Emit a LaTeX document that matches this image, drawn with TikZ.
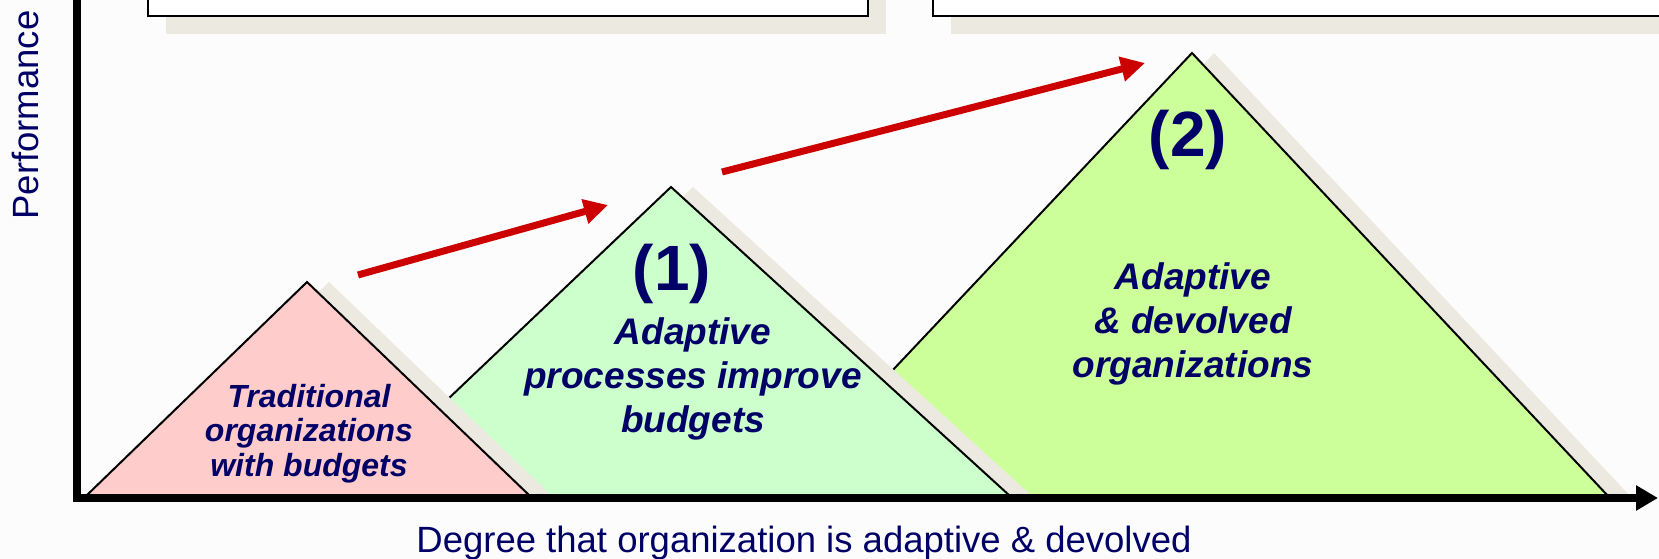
\documentclass[tikz,border=0pt]{standalone}
\usepackage{fontspec}
\setmainfont{Liberation Sans}
\usetikzlibrary{arrows.meta}
\usetikzlibrary{positioning}
\definecolor{navy}{rgb}{0,0,0.4}
\definecolor{paper}{HTML}{FCFCFC}
\definecolor{dropshadow}{HTML}{ECE9E0}
\definecolor{rosy}{HTML}{FFCCCC}
\definecolor{mint}{HTML}{CCFFCC}
\definecolor{lime}{HTML}{CCFF99}
\definecolor{arrowred}{HTML}{CC0000}

\begin{document}
\begin{tikzpicture}[
            x = 1pt, y = -1pt, % pixel grid, y pointing down
            axis/.style = {line width = 8pt, black},
            frame/.style = {draw = black, line width = 2.5pt, fill = white},
            pyramid/.style = {draw = black, line width = 2pt, line join = miter},
            trend/.style = {arrowred, line width = 7pt,
                -{Triangle[length = 24pt, width = 24pt]}},
            small/.style = {navy, align = center,
                font = \fontsize{32}{34.5}\selectfont\bfseries\itshape},
            label/.style = {navy, align = center,
                font = \fontsize{37}{44}\selectfont\bfseries\itshape},
            level/.style = {navy, font = \fontsize{64}{70}\selectfont\bfseries},
            axislabel/.style = {navy, font = \fontsize{36.5}{40}\selectfont}
        ]

        \useasboundingbox[fill = paper] (0,0) rectangle (1659,559);

        % boxes along the top edge
        \fill[dropshadow] (166,-20) rectangle (886,34);
        \draw[frame] (148,-20) rectangle (868,16);
        \fill[dropshadow] (951,-20) rectangle (1700,34);
        \draw[frame] (933,-20) rectangle (1690,16);

        % corners of the three pyramids
        \coordinate (P3l) at (774,496);
        \coordinate (P3t) at (1192,53);
        \coordinate (P3r) at (1608,496);
        \coordinate (P2l) at (346,496);
        \coordinate (P2t) at (671,187);
        \coordinate (P2r) at (1010,496);
        \coordinate (P1l) at (86,496);
        \coordinate (P1t) at (307,282);
        \coordinate (P1r) at (530,496);

        % back to front, each with its shadow
        \fill[dropshadow] ([xshift = 22pt]P3l) -- ([xshift = 22pt]P3t) -- ([xshift = 22pt]P3r) -- cycle;
        \draw[pyramid, fill = lime] (P3l) -- (P3t) -- (P3r) -- cycle;
        \fill[dropshadow] ([xshift = 22pt]P2l) -- ([xshift = 22pt]P2t) -- ([xshift = 22pt]P2r) -- cycle;
        \draw[pyramid, fill = mint] (P2l) -- (P2t) -- (P2r) -- cycle;
        \fill[dropshadow] ([xshift = 22pt]P1l) -- ([xshift = 22pt]P1t) -- ([xshift = 22pt]P1r) -- cycle;
        \draw[pyramid, fill = rosy] (P1l) -- (P1t) -- (P1r) -- cycle;

        % axes
        \coordinate (O) at (77,498);
        \coordinate (Ytop) at (77,-10);
        \coordinate (Xend) at (1658,498);
        \draw[axis] (Ytop) -- ([yshift = 4pt]O);
        \draw[axis, -{Triangle[length = 22pt, width = 24pt]}] ([xshift = -4pt]O) -- (Xend);

        \node[axislabel, rotate = 90] (perf) at (25,115) {Performance};
        \node[axislabel, anchor = base] (degree) at (804,552)
            {Degree that organization is adaptive \& devolved};

        % texts inside the pyramids (base = last line)
        \node[small, anchor = base] (trad) at (309,476)
            {Traditional\\organizations\\with budgets};
        \node[level] (one) at (672,274) {(1)};
        \node[label, anchor = base] (proc) at (693,432)
            {Adaptive\\processes improve\\budgets};
        \node[level] (two) at (1188,140) {(2)};
        \node[label, anchor = base] (devo) at (1193,377)
            {Adaptive\\\& devolved\\organizations};

        % rising trend
        \coordinate (a1) at (358,275);
        \coordinate (b1) at (608,205);
        \coordinate (a2) at (722,172);
        \coordinate (b2) at (1145,63);
        \draw[trend] (a1) -- (b1);
        \draw[trend] (a2) -- (b2);

\end{tikzpicture}
\end{document}
